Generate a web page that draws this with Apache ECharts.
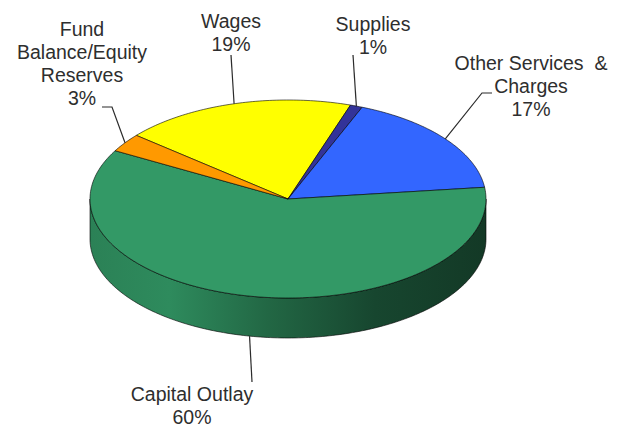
<!DOCTYPE html>
<html>
<head>
<meta charset="utf-8">
<script src="https://cdn.jsdelivr.net/npm/echarts@6/dist/echarts.min.js"></script>
<style>
  html, body { margin: 0; padding: 0; background: #ffffff; }
  #chart { width: 620px; height: 426px; }
</style>
</head>
<body>
<div id="chart"></div>
<script>
// Budget categories and their shares (percent of total), clockwise from the first slice
const categories = ['Wages', 'Supplies', 'Other Services & Charges', 'Capital Outlay', 'Fund Balance/Equity Reserves'];
const shares = [19, 1, 17, 60, 3];

// How each category name is broken over lines in its label
const labelNames = [
  ['Wages'],
  ['Supplies'],
  ['Other Services  &', 'Charges'],
  ['Capital Outlay'],
  ['Fund', 'Balance/Equity', 'Reserves']
];

// Slice fill colours
const sliceColors = ['#ffff00', '#333399', '#3366ff', '#339966', '#ff9900'];

// Geometry of the tilted disc
const disc = { cx: 288, cy: 199, rx: 198, ry: 99, depth: 40, startAngle: 310 };

// Label block centres and the bend points of their leader lines
const labelLayout = [
  { x: 231, y: 32,  path: [[231, 55]] },
  { x: 373, y: 35,  path: [[353, 55]] },
  { x: 531, y: 86,  path: [[482, 93], [492, 93]] },
  { x: 192, y: 405, path: [[252, 382]] },
  { x: 82,  y: 63,  path: [[112, 107], [102, 107]] }
];

const total = shares.reduce((a, b) => a + b, 0);

function shade(hex, k) {
  const c = echarts.color.parse(hex);
  return 'rgb(' + [0, 1, 2].map(i => Math.round(c[i] * k)).join(',') + ')';
}

// Point on the rim: angle in degrees, clockwise from 12 o'clock
function rim(a, drop) {
  const r = a * Math.PI / 180;
  return [disc.cx + disc.rx * Math.sin(r), disc.cy - disc.ry * Math.cos(r) + (drop || 0)];
}

function arc(a0, a1, drop) {
  const pts = [];
  const n = Math.max(2, Math.ceil(Math.abs(a1 - a0)));
  for (let i = 0; i <= n; i++) pts.push(rim(a0 + (a1 - a0) * i / n, drop));
  return pts;
}

function renderSlice(params, api) {
  const idx = params.dataIndex;
  const value = api.value(0);
  let before = 0;
  for (let i = 0; i < idx; i++) before += shares[i];
  const a0 = disc.startAngle + before / total * 360;
  const a1 = a0 + value / total * 360;
  const color = sliceColors[idx];
  const edge = { stroke: 'rgba(0,0,0,0.75)', lineWidth: 0.8 };
  const children = [];

  // Front wall (visible between 3 and 9 o'clock)
  for (let k = -1; k <= 1; k++) {
    const lo = Math.max(a0, 90 + 360 * k);
    const hi = Math.min(a1, 270 + 360 * k);
    if (hi > lo) {
      const pts = arc(lo, hi, 0).concat(arc(hi, lo, disc.depth));
      children.push({
        type: 'polygon',
        shape: { points: pts },
        style: Object.assign({
          fill: new echarts.graphic.LinearGradient(disc.cx - disc.rx, 0, disc.cx + disc.rx, 0, [
            { offset: 0, color: shade(color, 0.84) },
            { offset: 0.2, color: shade(color, 0.91) },
            { offset: 0.45, color: shade(color, 0.67) },
            { offset: 0.72, color: shade(color, 0.46) },
            { offset: 1, color: shade(color, 0.37) }
          ], true)
        }, edge)
      });
    }
  }

  // Top face
  children.push({
    type: 'polygon',
    shape: { points: [[disc.cx, disc.cy]].concat(arc(a0, a1, 0)) },
    style: Object.assign({ fill: color }, edge)
  });

  // Leader line from the rim at the slice's middle angle to its label
  const mid = (a0 + a1) / 2;
  const m = ((mid % 360) + 360) % 360;
  const start = rim(mid, (m > 90 && m < 270) ? disc.depth : 0);
  const lay = labelLayout[idx];
  children.push({
    type: 'polyline',
    shape: { points: [start].concat(lay.path) },
    style: { stroke: '#2b2b2b', lineWidth: 1.2, fill: null }
  });

  // Label text: name and rounded share
  const pct = Math.round(value / total * 100) + '%';
  children.push({
    type: 'text',
    style: {
      text: labelNames[idx].concat([pct]).join('\n'),
      x: lay.x,
      y: lay.y,
      align: 'center',
      verticalAlign: 'middle',
      fontFamily: '"Liberation Sans", Arial, sans-serif',
      fontSize: 19.5,
      lineHeight: 23,
      fill: '#2e2e2e'
    }
  });

  return { type: 'group', children: children };
}

const chart = echarts.init(document.getElementById('chart'), null, { renderer: 'svg' });
chart.setOption({
  backgroundColor: '#ffffff',
  animation: false,
  series: [{
    type: 'custom',
    coordinateSystem: 'none',
    data: shares.map((v, i) => ({ name: categories[i], value: [v] })),
    renderItem: renderSlice
  }]
});
</script>
</body>
</html>
